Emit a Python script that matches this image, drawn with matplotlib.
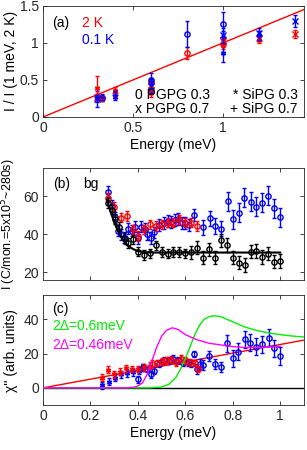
import numpy as np
import matplotlib
matplotlib.use('Agg')
from matplotlib import pyplot as plt

plt.rcParams['font.family'] = ['Liberation Sans', 'DejaVu Sans']
plt.rcParams['font.size'] = 10

RED = '#ff0000'
BLUE = '#0000ff'
FS = 10
STAR = (6, 2, 0)  # asterisk, like MATLAB '*'

# ---- panel (a): normalised intensity vs energy ----
# PGPG 0.3 ('o')
a_o_E = [0.33, 0.6, 0.8, 1.0]
a_o_red = [0.25, 0.47, 0.86, 0.98]
a_o_red_err = [0.04, 0.06, 0.08, 0.06]
a_o_blue = [0.26, 0.50, 1.12, 1.26]
a_o_blue_err = [0.04, 0.10, 0.17, 0.16]
# PGPG 0.7 ('x')
a_x_E = [0.30, 0.60, 1.0, 1.2, 1.4]
a_x_red = [0.27, 0.36, 1.02, 1.07, 1.12]
a_x_red_err = [0.04, 0.05, 0.06, 0.05, 0.06]
a_x_blue = [0.24, 0.42, 1.10, 1.14, 1.30]
a_x_blue_err = [0.11, 0.06, 0.10, 0.06, 0.08]
# SiPG 0.3 ('*')
a_s_E = [0.30, 0.40, 0.60, 1.0, 1.2]
a_s_red = [0.39, 0.35, 0.32, 1.00, 1.04]
a_s_red_err = [0.16, 0.06, 0.05, 0.05, 0.04]
a_s_blue = [0.25, 0.27, 0.38, 0.87, 1.10]
a_s_blue_err = [0.05, 0.04, 0.05, 0.13, 0.06]
# SiPG 0.7 ('+')
a_p_E = [0.33, 0.40, 0.60, 1.0]
a_p_red = [0.25, 0.33, 0.40, 1.00]
a_p_red_err = [0.04, 0.05, 0.05, 0.06]
a_p_blue = [0.27, 0.30, 0.45, 1.08]
a_p_blue_err = [0.04, 0.05, 0.06, 0.08]
a_fit_E = [0, 1.45]
a_fit_I = [0, 1.45]

# ---- panel (b): background ----
b_red_E = [0.276, 0.30, 0.328, 0.353, 0.378, 0.402, 0.427, 0.45, 0.477, 0.50,
           0.525, 0.55, 0.575, 0.60, 0.624, 0.65]
b_red_I = [59.3, 54.6, 48.8, 49.6, 42.6, 39.1, 42.6, 45.3, 44.4, 45.3,
           46.2, 46.2, 47.9, 46.2, 46.2, 44.4]
b_red_err = [2.5] * 16
b_blue_E = [0.276, 0.29, 0.304, 0.315, 0.33, 0.345, 0.36, 0.375, 0.39, 0.40,
            0.415, 0.43, 0.44, 0.455, 0.47, 0.49, 0.51, 0.525, 0.54, 0.555,
            0.57, 0.585, 0.60, 0.615, 0.638, 0.676, 0.702, 0.726, 0.751, 0.778,
            0.80, 0.827, 0.849, 0.876, 0.899, 0.925, 0.95, 0.975, 1.0]
b_blue_I = [62.5, 55, 49, 42, 40, 38, 43, 42, 44, 38,
            44, 43, 40, 38, 41, 45, 46, 47, 46.5, 47.5,
            48, 46, 46, 45, 50.2, 43.8, 48.4, 44.4, 43, 57.5,
            47.9, 51.4, 59.3, 57.2, 54.6, 56.7, 60.2, 53.7, 49.1]
b_blue_err = [3] * 25 + [4] * 4 + [5] * 10
b_blk_E = [0.276, 0.29, 0.304, 0.322, 0.34, 0.36, 0.378, 0.402, 0.427, 0.451,
           0.477, 0.50, 0.525, 0.55, 0.575, 0.60, 0.625, 0.65, 0.676, 0.70,
           0.726, 0.751, 0.775, 0.80, 0.827, 0.85, 0.876, 0.90, 0.925, 0.95,
           0.975, 1.0]
b_blk_I = [56.5, 53, 48, 44, 38, 35.5, 37.4, 30.9, 29, 30,
           34.2, 30.8, 29.8, 30.6, 30.6, 30, 30.5, 33, 27.7, 32.1,
           27.7, 36.8, 34.4, 27.7, 25.1, 23.9, 30.9, 31.2, 28.1, 29.8,
           25.6, 25.9]
b_blk_err = [2.5] * 16 + [3.5] * 16
b_fit_E = [0.27, 0.285, 0.30, 0.315, 0.33, 0.345, 0.36, 0.38, 0.40, 0.43, 0.47, 1.0]
b_fit_I = [58, 52, 46.5, 42, 38.5, 35.8, 33.9, 32.2, 31.2, 30.6, 30.4, 30.4]

# ---- panel (c): susceptibility ----
c_red_s_E = [0.25, 0.275, 0.30, 0.325, 0.35, 0.375, 0.40, 0.425, 0.45]
c_red_s_V = [6, 10.5, 8, 9.5, 11.5, 11, 11, 12, 13]
c_red_o_E = [0.46, 0.48, 0.50, 0.52, 0.54, 0.56, 0.58, 0.60, 0.62, 0.64, 0.655]
c_red_o_V = [14, 14.5, 15.5, 16, 16.5, 15, 17, 16, 15, 14.5, 11]
c_blue_s_E = [0.25, 0.28, 0.305, 0.33, 0.355, 0.38, 0.405, 0.42]
c_blue_s_V = [1.5, 3.5, 6, 8, 8.5, 9, 10, 12]
c_blue_o_E = [0.40, 0.42, 0.44, 0.455, 0.47, 0.49, 0.51, 0.53, 0.55, 0.57,
              0.59, 0.61, 0.625, 0.638, 0.65, 0.662, 0.675, 0.70, 0.726, 0.751,
              0.775, 0.803, 0.824, 0.85, 0.873, 0.899, 0.923, 0.951, 0.975, 1.0]
c_blue_o_V = [5, 12, 11, 8, 10, 14, 16, 16, 17, 16,
              14.5, 15, 14, 19.7, 11, 13.9, 13.3, 18.6, 13.9, 12,
              25.9, 17.2, 21, 28.2, 26.3, 24, 25.3, 29.2, 23, 18.6]
c_fit_E = [0, 1.1]
c_fit_V = [0, 27.8]
c_gap6_E = [0, 0.45, 0.50, 0.53, 0.56, 0.58, 0.60, 0.62, 0.64, 0.66, 0.68,
            0.70, 0.72, 0.75, 0.80, 0.85, 0.90, 0.95, 1.0, 1.05, 1.1]
c_gap6_V = [0, 0, 0.5, 2, 6, 11, 17, 24, 31, 36.5, 40,
            41.5, 42, 41.5, 38.5, 35.5, 33.5, 32, 31, 30.2, 29.6]
c_gap46_E = [0, 0.35, 0.38, 0.40, 0.42, 0.44, 0.46, 0.48, 0.50, 0.52, 0.545,
             0.57, 0.60, 0.65, 0.70, 0.75, 0.80, 0.85, 0.90, 0.95, 1.0]
c_gap46_V = [0, 0, 0.3, 1, 3, 8, 16, 24, 30, 33.5, 35,
             34, 31, 28, 26, 25, 24, 23.5, 23.5, 23.8, 24.2]


def errs(ax, x, y, e, color, marker, ms=3.8):
    ax.errorbar(x, y, yerr=e, fmt='none', ecolor=color, elinewidth=1,
                capsize=1.5, capthick=1, zorder=3)
    ax.plot(x, y, ls='none', marker=marker, color=color, mfc='none', ms=ms,
            mew=1, zorder=3)


def style(ax):
    ax.tick_params(direction='in', top=True, right=True, length=3, width=0.6,
                   labelsize=FS, colors='#262626', pad=3)
    for s in ax.spines.values():
        s.set_color('#262626')
        s.set_linewidth(0.6)
    ax.yaxis.set_label_coords(-0.095, 0.5)


fig = plt.figure(figsize=(3.07, 4.5), dpi=100)
ax1 = fig.add_axes([0.140, 0.740, 0.850, 0.247])
ax2 = fig.add_axes([0.140, 0.378, 0.850, 0.249])
ax3 = fig.add_axes([0.140, 0.100, 0.850, 0.244])

# (a)
ax1.plot(a_fit_E, a_fit_I, color=RED, lw=1)
for E, r, re, b, be, m in [(a_o_E, a_o_red, a_o_red_err, a_o_blue, a_o_blue_err, 'o'),
                           (a_x_E, a_x_red, a_x_red_err, a_x_blue, a_x_blue_err, 'x'),
                           (a_s_E, a_s_red, a_s_red_err, a_s_blue, a_s_blue_err, STAR),
                           (a_p_E, a_p_red, a_p_red_err, a_p_blue, a_p_blue_err, '+')]:
    errs(ax1, E, r, re, RED, m)
    errs(ax1, E, b, be, BLUE, m)
ax1.set_xlim(0, 1.45)
ax1.set_ylim(0, 1.5)
ax1.set_xticks([0, 0.5, 1])
ax1.set_xticklabels(['0', '0.5', '1'])
ax1.set_yticks([0, 0.5, 1, 1.5])
ax1.set_yticklabels(['0', '0.5', '1', '1.5'])
ax1.set_xlabel('Energy (meV)', fontsize=FS, labelpad=2)
ax1.set_ylabel('I / I (1 meV, 2 K)', fontsize=FS)
ax1.text(0.035, 0.81, '(a)', transform=ax1.transAxes, fontsize=FS)
ax1.text(0.15, 0.81, '2 K', transform=ax1.transAxes, color=RED, fontsize=FS)
ax1.text(0.15, 0.66, '0.1 K', transform=ax1.transAxes, color=BLUE, fontsize=FS)
ax1.text(0.352, 0.16, '0 PGPG 0.3', transform=ax1.transAxes, fontsize=FS)
ax1.text(0.352, 0.035, 'x PGPG 0.7', transform=ax1.transAxes, fontsize=FS)
ax1.text(0.975, 0.16, '* SiPG 0.3', transform=ax1.transAxes, fontsize=FS, ha='right')
ax1.text(0.975, 0.035, '+ SiPG 0.7', transform=ax1.transAxes, fontsize=FS, ha='right')
style(ax1)

# (b)
errs(ax2, b_blue_E, b_blue_I, b_blue_err, BLUE, 'o')
errs(ax2, b_red_E, b_red_I, b_red_err, RED, 'o')
errs(ax2, b_blk_E, b_blk_I, b_blk_err, 'black', 'o')
ax2.plot(b_fit_E, b_fit_I, color='black', lw=1.5, zorder=4)
ax2.set_xlim(0, 1.1)
ax2.set_ylim(16, 75)
ax2.set_xticks([0.2, 0.4, 0.6, 0.8, 1.0])
ax2.set_xticklabels([])
ax2.set_yticks([20, 40, 60])
ax2.set_ylabel('I (C/mon.=5x10$^5$~280s)', fontsize=9)
ax2.text(0.04, 0.82, '(b)', transform=ax2.transAxes, fontsize=FS)
ax2.text(0.153, 0.82, 'bg', transform=ax2.transAxes, fontsize=FS)
style(ax2)

# (c)
ax3.axhline(0, color='black', lw=1)
ax3.plot(c_fit_E, c_fit_V, color=RED, lw=1)
errs(ax3, c_blue_s_E, c_blue_s_V, [2] * len(c_blue_s_E), BLUE, STAR)
errs(ax3, c_blue_o_E, c_blue_o_V, [2] * 14 + [3] * 6 + [5] * 10, BLUE, 'o')
errs(ax3, c_red_s_E, c_red_s_V, [2] * len(c_red_s_E), RED, STAR)
errs(ax3, c_red_o_E, c_red_o_V, [2] * len(c_red_o_E), RED, 'o')
ax3.plot(c_gap6_E, c_gap6_V, color='#00ee00', lw=1, zorder=5)
ax3.plot(c_gap46_E, c_gap46_V, color='#ff00ff', lw=1, zorder=5)
ax3.set_xlim(0, 1.1)
ax3.set_ylim(-10, 54)
ax3.set_xticks([0, 0.2, 0.4, 0.6, 0.8, 1.0])
ax3.set_xticklabels(['0', '0.2', '0.4', '0.6', '0.8', '1'])
ax3.set_yticks([0, 20, 40])
ax3.set_xlabel('Energy (meV)', fontsize=FS, labelpad=2)
ax3.set_ylabel("χ'' (arb. units)", fontsize=FS)
ax3.text(0.035, 0.84, '(c)', transform=ax3.transAxes, fontsize=FS)
ax3.text(0.035, 0.68, '2Δ=0.6meV', transform=ax3.transAxes, fontsize=FS, color='#00ee00')
ax3.text(0.035, 0.51, '2Δ=0.46meV', transform=ax3.transAxes, fontsize=FS, color='#ff00ff')
style(ax3)

fig.savefig('out.png', dpi=100)
